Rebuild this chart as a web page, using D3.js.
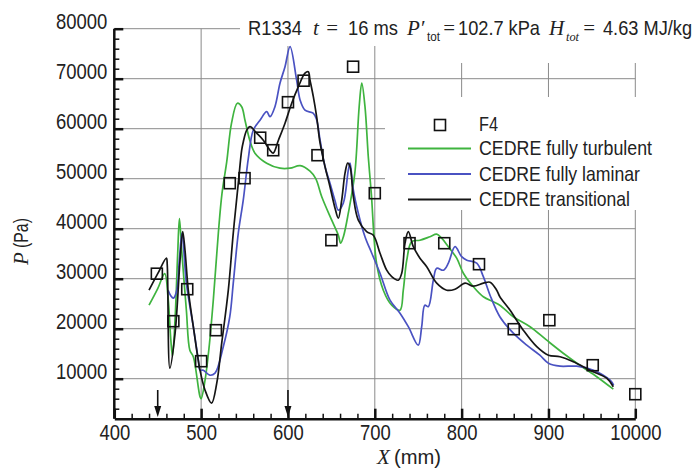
<!DOCTYPE html>
<html lang="en">
<head>
<meta charset="utf-8">
<title>R1334 pressure distribution</title>
<script src="https://cdn.jsdelivr.net/npm/d3@7"></script>
<style>
  body { margin: 0; background: #fff; }
  svg { display: block; }
  .grid line { stroke: #8a8a8a; stroke-width: 1; }
  .axis path, .axis line { stroke: #111; }
  .axis text { font-family: "Liberation Sans", Arial, sans-serif; font-size: 22px; fill: #222; }
  .lbl { font-family: "Liberation Sans", Arial, sans-serif; fill: #222; }
  .it { font-family: "Liberation Serif", "DejaVu Serif", serif; font-style: italic; fill: #222; }
</style>
</head>
<body>
<script>
// axis ticks
var xTicks = [400, 500, 600, 700, 800, 900, 1000],
    xTickLabels = ["400", "500", "600", "700", "800", "900", "10000"],
    yTicks = [10000, 20000, 30000, 40000, 50000, 60000, 70000, 80000];

// F4 measurements (x mm, P Pa)
var f4 = [[449, 31000], [468, 21500], [484, 27900], [500, 13500], [517, 19700],
          [533, 49100], [550, 50100], [568, 58200], [583, 55700], [600, 65300],
          [618, 69600], [634, 54700], [650, 37700], [675, 72400], [700, 47100],
          [740, 37100], [780, 37100], [820, 32900], [860, 19900], [901, 21700],
          [951, 12700], [1000, 6900]];

// CEDRE fully turbulent
var turbulent = [[440, 24700], [450, 28000], [458, 31000], [462, 26000], [465, 18000], [467, 14500],
    [470, 22000], [473, 35000], [475, 42000], [477.6, 35700], [483, 23700], [487, 15700],
    [491, 14400], [498.7, 6400], [500, 6000], [504.5, 9700], [509, 16000], [514, 25700],
    [519.8, 39100], [524, 47000], [529.5, 53400], [535, 61100], [541.7, 65100], [546.7, 64400],
    [550.5, 61700], [556, 57700], [562, 55100], [575.5, 53100], [590.8, 52100], [602.4, 52100],
    [614, 52600], [625.4, 51500], [632, 50000], [638.9, 46400], [650.4, 41700], [658, 38700],
    [660.7, 37100], [664, 38500], [669.5, 43100], [677, 51100], [682, 64400], [685, 69100],
    [688.7, 64400], [692.5, 54400], [696, 47000], [702, 33100], [709.8, 27700], [719.5, 24700],
    [729, 23700], [732.8, 27700], [736.8, 33700], [742.5, 37400], [752, 37700], [763.6, 38400],
    [771.3, 38900], [777, 38100], [784.7, 36400], [794.3, 34100], [802, 31100], [813.5, 28400],
    [825, 26400], [836.5, 25400], [844, 24700], [859.5, 22400], [878.8, 20400], [898, 17700],
    [917, 15100], [936, 12700], [955.6, 10400], [974.7, 7900]];

// CEDRE fully laminar
var laminar = [[462, 27700], [465, 26600], [468, 26100], [472, 27700], [475, 34000],
    [478, 39100], [483, 29100], [491, 20400], [496.8, 13700], [498.7, 11700], [502.5, 11700],
    [510, 10700], [516, 11100], [525.5, 16400], [533, 22400], [537, 29100], [542.8, 39100],
    [548.5, 45700], [554.3, 54000], [560, 59700], [567.8, 61700], [575.5, 63400], [579.3, 62400],
    [585, 64400], [590.8, 69100], [596.6, 72400], [602.4, 76400], [610, 69700], [614, 65700],
    [619.6, 63700], [629, 63100], [633, 61800], [637, 57700], [642.7, 52400], [648.4, 49100],
    [654, 45700], [658, 43700], [663.7, 45100], [669.5, 51700], [671.5, 53100], [675, 48000],
    [681, 43100], [688.7, 38400], [696.5, 35100], [706, 31100], [717.5, 25700], [729, 23100],
    [738.6, 20400], [750, 16700], [754, 20400], [757.6, 24700], [761.6, 24400], [767.4, 29700],
    [771.3, 32100], [779, 31700], [784.7, 33100], [792.4, 36400], [800, 34400], [806, 33700],
    [817.4, 33100], [825, 30400], [832.7, 26700], [844, 22400], [859.5, 19100], [875, 16700],
    [890, 14700], [900, 13100], [913.3, 12500], [932.5, 12500], [951.7, 11700], [971, 9700],
    [975, 8700]];

// CEDRE transitional
var transitional = [[440, 27700], [450, 31000], [460, 34100], [461, 32700], [464, 12100],
    [470, 19100], [475.7, 33700], [478.8, 39400], [481.4, 35700], [485.2, 27700], [491, 20400],
    [498.7, 11700], [504.5, 7700], [512, 5100], [518, 9100], [523.7, 17100], [531.3, 27700],
    [537, 39100], [542.8, 49100], [546.7, 55700], [548.6, 57400], [552.5, 59700], [556.3, 60400],
    [564, 59100], [571.6, 57700], [579.3, 55700], [583, 55100], [589, 57700], [596.6, 61100],
    [604.3, 65100], [612, 68400], [619.6, 71100], [623.4, 71400], [625.4, 69700], [629.2, 66400],
    [633, 62400], [637, 57100], [642.7, 52400], [648.4, 48400], [654.2, 44100], [658, 42100],
    [661.9, 45700], [665.7, 51100], [668.8, 53100], [671.5, 52400], [675.3, 46400], [681, 41700],
    [690.6, 39400], [698.3, 38700], [706, 35100], [713.7, 31700], [719.5, 30400], [727, 29700],
    [731, 31100], [734.8, 37100], [738.6, 39400], [744.4, 36400], [752, 34100], [759.8, 32400],
    [771.3, 29100], [782.8, 27700], [792.4, 27900], [804, 29100], [813.5, 28500], [825, 29100],
    [832.7, 29300], [840.4, 27700], [844, 26400], [855.8, 23700], [871, 19700], [886.5, 16400],
    [900, 14700], [913.3, 14400], [928.6, 13400], [947.8, 11700], [967, 10100], [974.7, 8400]];

var arrowX = [450, 600];

var series = [
  {name: "CEDRE fully turbulent", data: turbulent, color: "#3fb43f", len: 173},
  {name: "CEDRE fully laminar", data: laminar, color: "#4a52c2", len: 161},
  {name: "CEDRE transitional", data: transitional, color: "#151515", len: 151}
];

var width = 698, height = 468;

var svg = d3.select("body").append("svg")
    .attr("width", width)
    .attr("height", height);

var x = d3.scaleLinear().domain([400, 1000]).range([114.3, 635.3]),
    y = d3.scaleLinear().domain([2000, 80000]).range([418.7, 28.7]);

// narrow the sans texts like a condensed face
function squeeze(sel, s) {
  sel.each(function() {
    var t = d3.select(this), x0 = +t.attr("x") || 0;
    t.attr("transform", (t.attr("transform") || "") +
      " translate(" + x0 + ",0) scale(" + s + ",1) translate(" + (-x0) + ",0)");
  });
}

// fixed-width text piece
function piece(cls, px, py, size, str, len) {
  var t = svg.append("text").attr("class", cls)
      .attr("x", px).attr("y", py).style("font-size", size + "px").text(str);
  if (len) t.attr("textLength", len).attr("lengthAdjust", "spacingAndGlyphs");
  return t;
}

// grid
var grid = svg.append("g").attr("class", "grid");
grid.selectAll(".gx").data(xTicks.slice(1)).enter().append("line")
    .attr("x1", x).attr("x2", x)
    .attr("y1", y(80000)).attr("y2", y(2000));
grid.selectAll(".gy").data(yTicks).enter().append("line")
    .attr("x1", x(400)).attr("x2", x(1000))
    .attr("y1", y).attr("y2", y);

// white boxes behind title and legend
svg.append("rect").attr("x", 240).attr("y", 0).attr("width", 458).attr("height", 46).attr("fill", "#fff");
svg.append("rect").attr("x", 385).attr("y", 46).attr("width", 313).attr("height", 17).attr("fill", "#fff");
svg.append("rect").attr("x", 385).attr("y", 97).attr("width", 313).attr("height", 113).attr("fill", "#fff");

// axes
var xMinor = d3.range(420, 1000, 20).filter(function(d) { return d % 100; }),
    yMinor = d3.range(4000, 80000, 2000).filter(function(d) { return d % 10000; });

svg.append("g").attr("class", "axis")
    .attr("transform", "translate(0," + y(2000) + ")")
    .call(d3.axisBottom(x).tickValues(xMinor).tickFormat("").tickSizeInner(-5).tickSizeOuter(0))
    .call(function(g) { g.select(".domain").remove(); g.selectAll("line").attr("stroke-width", 1.5); });

svg.append("g").attr("class", "axis")
    .attr("transform", "translate(" + x(400) + ",0)")
    .call(d3.axisLeft(y).tickValues(yMinor).tickFormat("").tickSizeInner(-5).tickSizeOuter(0))
    .call(function(g) { g.select(".domain").remove(); g.selectAll("line").attr("stroke-width", 1.5); });

var xAxis = svg.append("g").attr("class", "axis")
    .attr("transform", "translate(0," + y(2000) + ")")
    .call(d3.axisBottom(x).tickValues(xTicks)
        .tickFormat(function(d, i) { return xTickLabels[i]; })
        .tickSizeInner(-10).tickSizeOuter(0).tickPadding(5));
xAxis.select(".domain").attr("stroke-width", 2.5);
xAxis.selectAll("line").attr("stroke-width", 2.5);
xAxis.selectAll("text").attr("dy", "0.72em").call(squeeze, 0.84);

var yAxis = svg.append("g").attr("class", "axis")
    .attr("transform", "translate(" + x(400) + ",0)")
    .call(d3.axisLeft(y).tickValues(yTicks).tickFormat(d3.format("d"))
        .tickSizeInner(-9).tickSizeOuter(0).tickPadding(7));
yAxis.select(".domain").attr("d", "M0," + y(80000) + "V" + y(2000)).attr("stroke-width", 2.5);
yAxis.selectAll("line").attr("stroke-width", 2.5);
yAxis.selectAll("text").attr("dy", "0").call(squeeze, 0.84);

// axis titles
var yTitle = svg.append("g").attr("transform", "translate(28,265)rotate(-90)");
yTitle.append("text").attr("class", "it").style("font-size", "21px").text("P");
yTitle.append("text").attr("class", "lbl").attr("x", 17).style("font-size", "20px")
    .attr("textLength", 30).attr("lengthAdjust", "spacingAndGlyphs").text("(Pa)");
piece("it", 377, 464, 21, "X");
piece("lbl", 394, 464, 20, "(mm)", 47);

// title
piece("lbl", 248, 35, 21, "R1334", 54);
piece("it", 313, 35, 21, "t");
piece("it", 325, 35, 21, "=", 14);
piece("lbl", 348, 35, 21, "16 ms", 50);
piece("it", 407, 35, 21, "P′");
piece("lbl", 427, 41, 12, "tot", 13);
piece("it", 442, 35, 21, "=", 14);
piece("lbl", 458, 35, 21, "102.7 kPa", 82);
piece("it", 549, 35, 21, "H");
piece("it", 566, 41, 12, "tot", 13);
piece("it", 582, 35, 21, "=", 14);
piece("lbl", 603, 35, 21, "4.63 MJ/kg", 89);

// curves
var line = d3.line()
    .x(function(d) { return x(d[0]); })
    .y(function(d) { return y(d[1]); })
    .curve(d3.curveCatmullRom.alpha(0.5));

svg.append("g").selectAll("path").data(series).enter().append("path")
    .attr("d", function(d) { return line(d.data); })
    .attr("fill", "none")
    .attr("stroke", function(d) { return d.color; })
    .attr("stroke-width", 1.7)
    .attr("stroke-linejoin", "round");

// measurements
svg.append("g").selectAll("rect").data(f4).enter().append("rect")
    .attr("x", function(d) { return x(d[0]) - 5.5; })
    .attr("y", function(d) { return y(d[1]) - 5.5; })
    .attr("width", 11).attr("height", 11)
    .attr("fill", "none").attr("stroke", "#111").attr("stroke-width", 1.6);

// arrows
var arrows = svg.append("g").attr("stroke", "#111").attr("fill", "#111");
arrows.selectAll("line").data(arrowX).enter().append("line")
    .attr("x1", x).attr("x2", x).attr("y1", 390).attr("y2", 410)
    .attr("stroke-width", 1.6);
arrows.selectAll("path").data(arrowX).enter().append("path")
    .attr("d", function(d) { var c = x(d); return "M" + (c - 3.5) + ",406L" + c + ",417L" + (c + 3.5) + ",406Z"; })
    .attr("stroke", "none");

// legend
svg.append("rect").attr("x", 434.5).attr("y", 119.5).attr("width", 11).attr("height", 11)
    .attr("fill", "none").attr("stroke", "#111").attr("stroke-width", 1.6);
piece("lbl", 479, 131, 21, "F4", 19);
var rows = svg.append("g").selectAll("g").data(series).enter().append("g")
    .attr("transform", function(d, i) { return "translate(0," + (155 + i * 25.5) + ")"; });
rows.append("line").attr("x1", 408).attr("x2", 471).attr("y1", -6.5).attr("y2", -6.5)
    .attr("stroke", function(d) { return d.color; }).attr("stroke-width", 1.8);
rows.append("text").attr("class", "lbl").attr("x", 479).style("font-size", "21px")
    .attr("textLength", function(d) { return d.len; }).attr("lengthAdjust", "spacingAndGlyphs")
    .text(function(d) { return d.name; });
</script>
</body>
</html>
